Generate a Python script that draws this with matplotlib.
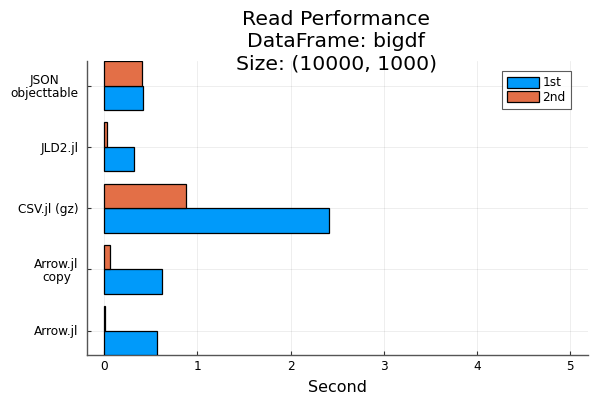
import matplotlib.pyplot as plt
import numpy as np

categories = ["Arrow.jl", "Arrow.jl\ncopy", "CSV.jl (gz)", "JLD2.jl", "JSON\nobjecttable"]
first_run = [0.565, 0.618, 2.41, 0.315, 0.418]
second_run = [0.008, 0.064, 0.88, 0.032, 0.41]
xticks = [0, 1, 2, 3, 4, 5]


def main():
    fig = plt.figure(figsize=(6, 4), dpi=100)
    ax = fig.add_axes([0.145, 0.1125, 0.835, 0.735])
    y = np.arange(1, len(categories) + 1)
    h = 0.4
    ax.barh(y - h / 2, first_run, height=h, color="#009AFA", edgecolor="black",
            linewidth=0.9, label="1st", zorder=3)
    ax.barh(y + h / 2, second_run, height=h, color="#E36F47", edgecolor="black",
            linewidth=0.9, label="2nd", zorder=3)
    ax.set_yticks(y)
    ax.set_yticklabels(categories, fontsize=8.7, linespacing=1.0, multialignment="center")
    ax.set_xticks(xticks)
    ax.set_xticklabels([str(t) for t in xticks], fontsize=8.7)
    ax.set_xlim(-0.185, 5.19)
    ax.set_ylim(0.6, 5.4)
    ax.grid(True, color="black", alpha=0.08, linewidth=0.6, zorder=0)
    for s in ["top", "right"]:
        ax.spines[s].set_visible(False)
    for s in ["left", "bottom"]:
        ax.spines[s].set_color("#555555")
        ax.spines[s].set_linewidth(1.0)
    ax.tick_params(direction="in", length=3, width=0.8, color="#333333")
    ax.tick_params(axis="y", pad=6)
    ax.set_xlabel("Second", fontsize=11.5, labelpad=5)
    fig.text(336 / 600, 1 - 10 / 400, "Read Performance\nDataFrame: bigdf\nSize: (10000, 1000)",
             fontsize=14.7, linespacing=1.2, ha="center", va="top")
    leg = ax.legend(loc="upper right", fontsize=8.7, fancybox=False, edgecolor="#333333",
                    bbox_to_anchor=(0.966, 0.966), borderaxespad=0, handlelength=2.6,
                    handleheight=1.1, borderpad=0.45, labelspacing=0.1, handletextpad=0.3)
    leg.get_frame().set_linewidth(0.8)
    fig.savefig("out.png")


if __name__ == "__main__":
    main()
